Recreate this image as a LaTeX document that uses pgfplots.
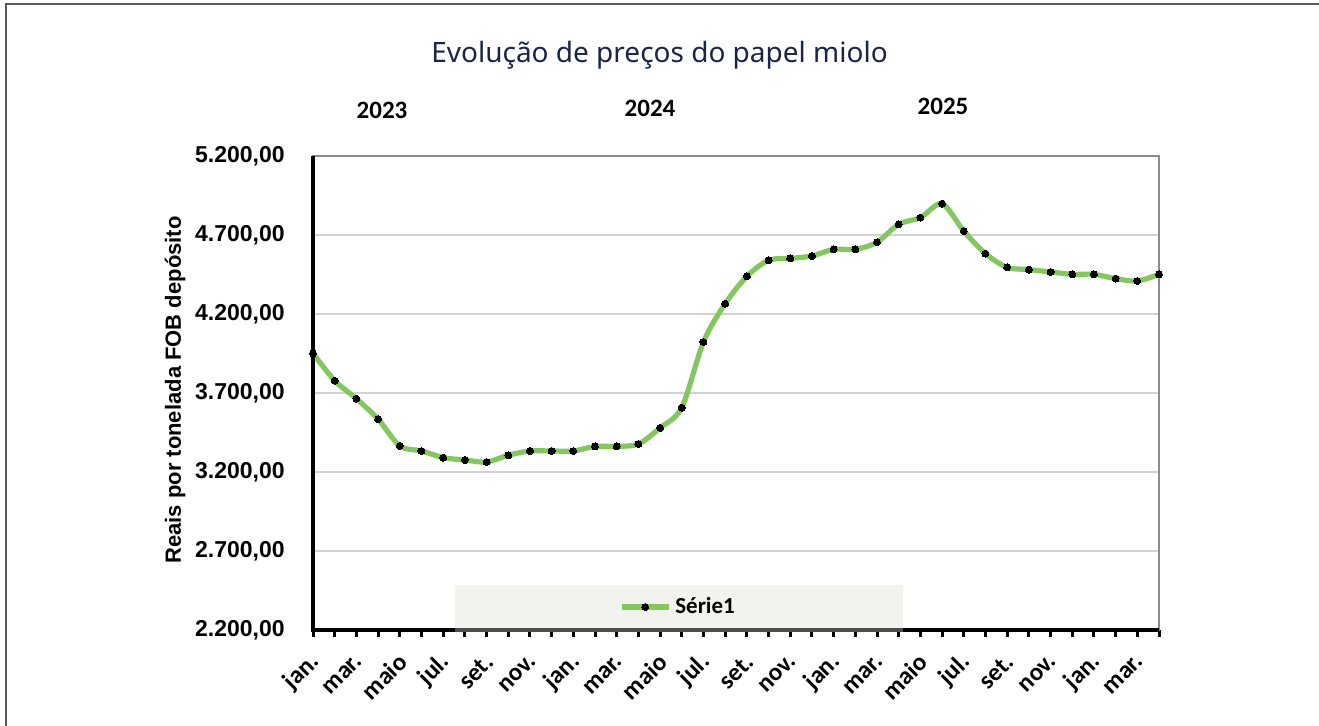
\documentclass[border=0pt]{standalone}
\usepackage{pgfplots}
\pgfplotsset{compat=1.18}
\usepackage{fontspec}
\setmainfont{Carlito}
\newfontfamily\lib{Liberation Sans}
\newfontfamily\titlefont{Noto Sans}
\definecolor{serie}{RGB}{132,198,96}
\definecolor{navy}{RGB}{27,36,72}
\definecolor{legfill}{RGB}{242,242,238}
\definecolor{gridc}{RGB}{210,210,210}
\begin{document}
\begin{tikzpicture}[x=0.5pt,y=0.5pt]
\path[use as bounding box] (0,0) rectangle (1319,726);
\draw[black!65, line width=1pt] (5.5,0) -- (5.5,721.5) -- (1319,721.5);
\fill[legfill] (455,96) rectangle (903,141);
\node[font=\titlefont\fontsize{14}{16}\selectfont, text=navy] at (659.5,671) {Evolução de preços do papel miolo};
\node[font=\bfseries\fontsize{12.5}{14}\selectfont] at (382,616) {2023};
\node[font=\bfseries\fontsize{12.5}{14}\selectfont] at (650,618) {2024};
\node[font=\bfseries\fontsize{12.5}{14}\selectfont] at (943,620) {2025};
\node[font=\lib\bfseries\fontsize{11}{13}\selectfont, rotate=90] at (175,336) {Reais por tonelada FOB depósito};
\begin{axis}[
  at={(156.5pt,48pt)}, anchor=south west,
  scale only axis, width=423pt, height=237pt,
  xmin=0, xmax=39, ymin=2200, ymax=5200,
  ytick={2200,2700,...,5200},
  xtick={0,...,39},
  xticklabels={jan.,,mar.,,maio,,jul.,,set.,,nov.,,jan.,,mar.,,maio,,jul.,,set.,,nov.,,jan.,,mar.,,maio,,jul.,,set.,,nov.,,jan.,,mar.,},
  xtick pos=lower, ytick pos=left,
  tick align=outside,
  major tick length=3.5pt,
  xtick style={black, line width=1.5pt},
  ytick style={draw=none},
  ymajorgrids, grid style={draw=gridc, line width=0.75pt},
  axis line style={draw=black!45, line width=0.6pt},
  /pgf/number format/.cd, fixed, fixed zerofill, precision=2, use comma, 1000 sep={.}, assume math mode=true,
  /pgfplots/.cd,
  yticklabel style={font=\lib\bfseries\fontsize{11.5}{13}\selectfont, anchor=east, inner sep=0pt, xshift=-10.5pt},
  xticklabel style={font=\bfseries\fontsize{12.5}{14}\selectfont, inner sep=0pt, yshift=-10.5pt, xshift=1.5pt, rotate=45, anchor=east},
  clip=false,
  legend style={at={(0.4326,0.0485)}, anchor=center, draw=none, fill=none, font=\bfseries\fontsize{11.5}{13}\selectfont, inner sep=0pt},
  legend image code/.code={\draw[#1, mark repeat=2, mark phase=2] plot coordinates {(0pt,0pt) (11.75pt,0pt) (23.5pt,0pt)};},
  after end axis/.code={
    \draw[black, line width=2pt] (rel axis cs:0,1) -- (rel axis cs:0,0) -- (rel axis cs:1,0);
  },
]
\addplot[serie, line width=2.6pt, smooth, mark=*, mark size=1.75pt, mark options={black, fill=black, draw=black, line width=0pt}] coordinates {
(0,3951) (1,3778) (2,3664) (3,3535) (4,3365) (5,3333) (6,3291) (7,3276) (8,3263) (9,3306)
(10,3333) (11,3333) (12,3333) (13,3362) (14,3362) (15,3377) (16,3479) (17,3607) (18,4023) (19,4265)
(20,4438) (21,4540) (22,4552) (23,4567) (24,4609) (25,4609) (26,4654) (27,4768) (28,4810) (29,4898)
(30,4725) (31,4582) (32,4495) (33,4481) (34,4466) (35,4451) (36,4451) (37,4424) (38,4409) (39,4451)
};
\addlegendentry{Série1}
\end{axis}
\fill[white, opacity=0.3] (455,94) rectangle (903,99);
\end{tikzpicture}
\end{document}
